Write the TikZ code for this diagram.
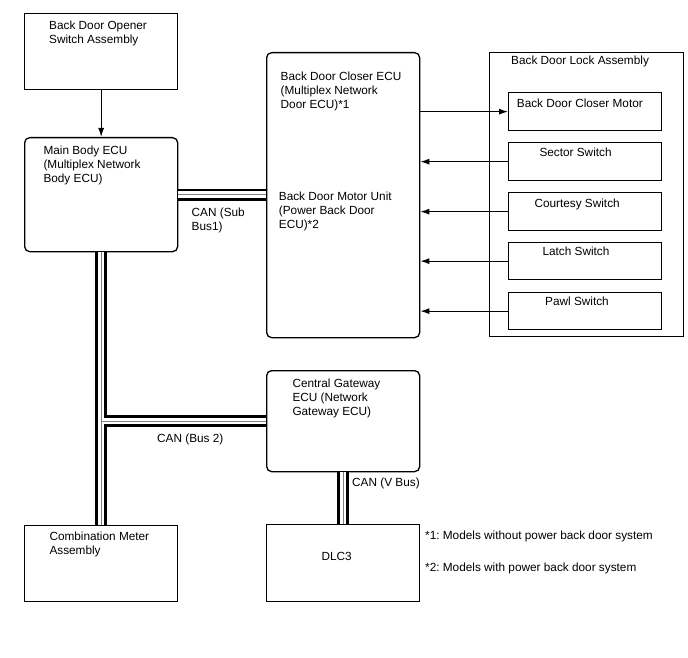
\documentclass[tikz,border=0pt]{standalone}
\usepackage{fontspec}
\setmainfont{Liberation Sans}
\usetikzlibrary{arrows.meta}
\frenchspacing

\begin{document}
\begin{tikzpicture}[x=1pt, y=-1pt]
    \tikzstyle{unit}=[draw, line width=1.3pt, minimum width=153pt, anchor=north west, inner sep=0pt]
    \tikzstyle{ecu}=[unit, rounded corners=5pt]
    \tikzstyle{txt}=[anchor=north west, inner sep=0pt, align=left, font=\fontsize{11.8}{14}\selectfont]
    \tikzstyle{sig}=[line width=1.2pt, -{Latex[length=9pt, width=6pt]}]
    \tikzstyle{bus}=[line width=2.75pt, double distance=6.5pt]
    \tikzstyle{busmid}=[line width=0.8pt, gray]

    \useasboundingbox (0,0) rectangle (688,658);

    % left column
    \node[unit, minimum height=76pt] (opener) at (24,13) {};
    \node[ecu, minimum height=114pt] (mainbody) at (24,137) {};
    \node[unit, minimum height=76pt] (meter) at (24,525) {};

    % middle column
    \node[ecu, minimum height=285pt] (closer) at (266,52) {};
    \node[ecu, minimum height=101pt] (gateway) at (266,370) {};
    \node[unit, minimum height=77pt] (dlc) at (266,524) {};

    % back door lock assembly
    \node[unit, minimum width=194pt, minimum height=284pt] (lock) at (489,52) {};
    \node[unit, minimum height=38pt] (motor) at (508,92) {};
    \node[unit, minimum height=38pt] (sector) at (508,142) {};
    \node[unit, minimum height=38pt] (courtesy) at (508,192) {};
    \node[unit, minimum height=37pt] (latch) at (508,242) {};
    \node[unit, minimum height=37pt] (pawl) at (508,292) {};

    % texts
    \node[txt] (opener-t) at (49,20.5) {Back Door Opener\\Switch Assembly};
    \node[txt] (mainbody-t) at (43.3,145.3) {Main Body ECU\\(Multiplex Network\\Body ECU)};
    \node[txt] (meter-t) at (49.3,531.7) {Combination Meter\\Assembly};
    \node[txt] (closer-t) at (280.5,71.7) {Back Door Closer ECU\\(Multiplex Network\\Door ECU)*1};
    \node[txt] (motorunit-t) at (278.7,191.7) {Back Door Motor Unit\\(Power Back Door\\ECU)*2};
    \node[txt] (gateway-t) at (292.3,378.3) {Central Gateway\\ECU (Network\\Gateway ECU)};
    \node[txt] (dlc-t) at (321.3,552.3) {DLC3};
    \node[txt] (lock-t) at (511,56) {Back Door Lock Assembly};
    \node[txt] (motor-t) at (516.7,99) {Back Door Closer Motor};
    \node[txt] (sector-t) at (539.3,147.3) {Sector Switch};
    \node[txt] (courtesy-t) at (534.3,198.3) {Courtesy Switch};
    \node[txt] (latch-t) at (542.3,246.7) {Latch Switch};
    \node[txt] (pawl-t) at (545,296.7) {Pawl Switch};
    \node[txt] (subbus-t) at (191.5,207.7) {CAN (Sub\\Bus1)};
    \node[txt] (bus2-t) at (157,434) {CAN (Bus 2)};
    \node[txt] (vbus-t) at (352,477.3) {CAN (V Bus)};
    \node[txt] (note1) at (425,531) {*1: Models without power back door system};
    \node[txt] (note2) at (425,562.3) {*2: Models with power back door system};

    % signal lines
    \draw[sig] (opener) -- (mainbody);
    \draw[sig] (closer.east |- motor.west) -- (motor.west);
    \draw[sig] (sector.west) -- (sector.west -| closer.east);
    \draw[sig] (courtesy.west) -- (courtesy.west -| closer.east);
    \draw[sig] (latch.west) -- (latch.west -| closer.east);
    \draw[sig] (pawl.west) -- (pawl.west -| closer.east);

    % CAN lines
    \coordinate (tee) at (mainbody.south |- gateway.west);
    \draw[bus] (mainbody.east) -- (mainbody.east -| closer.west)
        (mainbody.south) -- (meter.north)
        (tee) -- (gateway.west)
        (gateway.south) -- (dlc.north);
    \draw[busmid] (mainbody.east) -- (mainbody.east -| closer.west)
        (mainbody.south) -- (meter.north)
        (tee) -- (gateway.west)
        (gateway.south) -- (dlc.north);
\end{tikzpicture}
\end{document}
